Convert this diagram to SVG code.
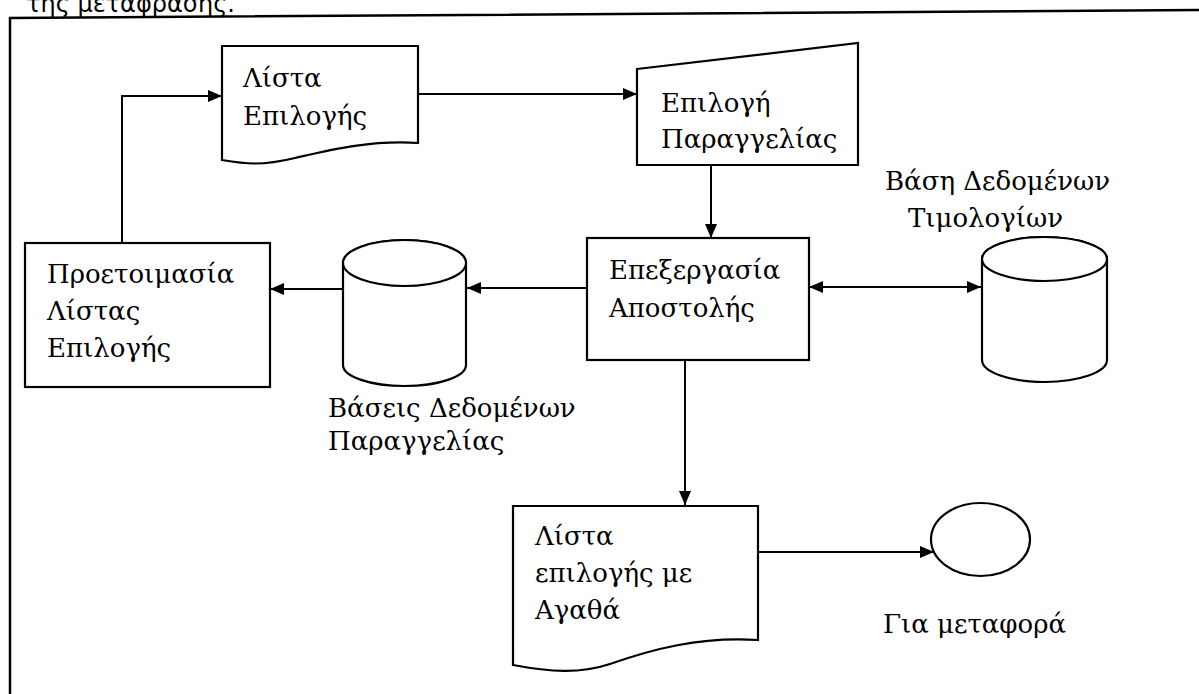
<svg xmlns="http://www.w3.org/2000/svg" width="1199" height="694" viewBox="0 0 1199 694">
  <style>
    .shape { fill: #ffffff; stroke: #000000; stroke-width: 2.2; }
    .frame { fill: none; stroke: #000000; stroke-width: 2.5; }
    .conn { fill: none; stroke: #000000; stroke-width: 2; }
    .lbl { font-family: "DejaVu Serif", "Liberation Serif", serif; font-size: 26px; fill: #000000; }
    .head { font-family: "DejaVu Sans", sans-serif; font-size: 24px; fill: #000000; }
  </style>
  <defs>
    <marker id="arrow" viewBox="0 0 14 12" refX="14" refY="6" markerWidth="14" markerHeight="12" markerUnits="userSpaceOnUse" orient="auto-start-reverse">
      <path d="M0,0 L14,6 L0,12 Z" fill="#000000"/>
    </marker>
  </defs>

  <rect width="1199" height="694" fill="#ffffff"/>

  <!-- heading line above the frame -->
  <text class="head" x="26" y="12">της μετάφρασης.</text>

  <!-- outer frame -->
  <g id="frame">
    <path class="frame" d="M10,694 V18 L1199,10"/>
  </g>

  <!-- connectors -->
  <g id="connectors">
    <path class="conn" d="M418,94 H637" marker-end="url(#arrow)"/>
    <path class="conn" d="M711,165 V238" marker-end="url(#arrow)"/>
    <path class="conn" d="M809,287 H981" marker-start="url(#arrow)" marker-end="url(#arrow)"/>
    <path class="conn" d="M587,288 H467" marker-end="url(#arrow)"/>
    <path class="conn" d="M343,289 H270" marker-end="url(#arrow)"/>
    <path class="conn" d="M122,243 V96 H222" marker-end="url(#arrow)"/>
    <path class="conn" d="M685,360 V505" marker-end="url(#arrow)"/>
    <path class="conn" d="M758,552 H934" marker-end="url(#arrow)"/>
  </g>

  <!-- document: Λίστα Επιλογής -->
  <g id="node-lista-epilogis">
    <path class="shape" d="M222,46 H418 V143 C370,140 330,150 295,158 C262,166 245,164 222,160 Z"/>
    <text class="lbl" x="243" y="87">Λίστα</text>
    <text class="lbl" x="243" y="125">Επιλογής</text>
  </g>

  <!-- manual input: Επιλογή Παραγγελίας -->
  <g id="node-epilogi-paraggelias">
    <path class="shape" d="M637,69 L858,43 V165 H637 Z"/>
    <text class="lbl" x="661" y="112">Επιλογή</text>
    <text class="lbl" x="661" y="148">Παραγγελίας</text>
  </g>

  <!-- process: Επεξεργασία Αποστολής -->
  <g id="node-epexergasia">
    <rect class="shape" x="587" y="238" width="222" height="122"/>
    <text class="lbl" x="609" y="279">Επεξεργασία</text>
    <text class="lbl" x="609" y="317">Αποστολής</text>
  </g>

  <!-- database: Τιμολογίων -->
  <g id="node-db-timologion">
    <path class="shape" d="M982,259 V360 A62.5,22 0 0 0 1107,360 V259 A62.5,22 0 0 0 982,259 Z"/>
    <ellipse class="shape" cx="1044.5" cy="259" rx="62.5" ry="22"/>
    <text class="lbl" x="885" y="190">Βάση Δεδομένων</text>
    <text class="lbl" x="908" y="227">Τιμολογίων</text>
  </g>

  <!-- database: Παραγγελίας -->
  <g id="node-db-paraggelias">
    <path class="shape" d="M343,263 V365 A61.5,21 0 0 0 466,365 V263 A61.5,23 0 0 0 343,263 Z"/>
    <ellipse class="shape" cx="404.5" cy="263" rx="61.5" ry="23"/>
    <text class="lbl" x="328" y="417">Βάσεις Δεδομένων</text>
    <text class="lbl" x="328" y="450">Παραγγελίας</text>
  </g>

  <!-- process: Προετοιμασία Λίστας Επιλογής -->
  <g id="node-proetoimasia">
    <rect class="shape" x="25" y="243" width="245" height="144"/>
    <text class="lbl" x="47" y="283">Προετοιμασία</text>
    <text class="lbl" x="47" y="320">Λίστας</text>
    <text class="lbl" x="47" y="357">Επιλογής</text>
  </g>

  <!-- document: Λίστα επιλογής με Αγαθά -->
  <g id="node-lista-agatha">
    <path class="shape" d="M513,506 H758 V640 C700,636 650,650 610,664 C580,674 550,672 513,665 Z"/>
    <text class="lbl" x="535" y="545">Λίστα</text>
    <text class="lbl" x="535" y="582">επιλογής με</text>
    <text class="lbl" x="535" y="619">Αγαθά</text>
  </g>

  <!-- terminator: Για μεταφορά -->
  <g id="node-metafora">
    <ellipse class="shape" cx="980.5" cy="539.5" rx="49.5" ry="36.5"/>
    <text class="lbl" x="883" y="633">Για μεταφορά</text>
  </g>
</svg>
